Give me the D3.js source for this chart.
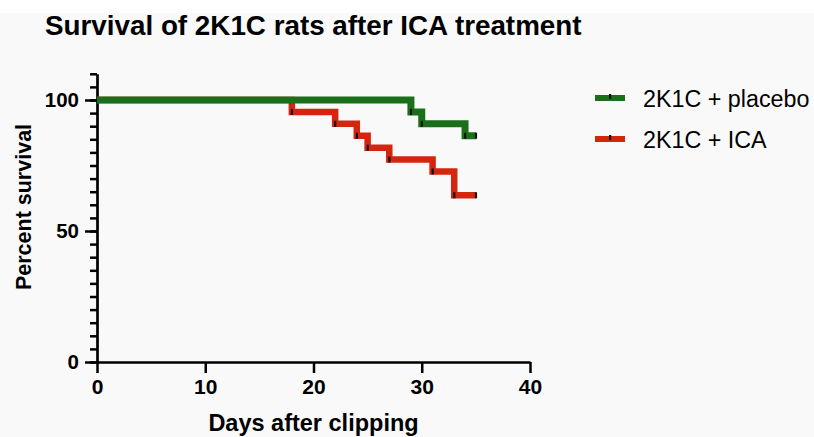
<!DOCTYPE html>
<html><head><meta charset="utf-8">
<script src="https://cdn.jsdelivr.net/npm/d3@7"></script>
<style>
html,body{margin:0;padding:0;background:#f9f9f9;}
text{font-family:"Liberation Sans",Arial,Helvetica,sans-serif;fill:#000;}
</style></head>
<body>
<svg id="chart" width="814" height="437"></svg>
<script>
const title = "Survival of 2K1C rats after ICA treatment";
const xLabel = "Days after clipping";
const yLabel = "Percent survival";
const seriesNames = ["2K1C + placebo", "2K1C + ICA"];
const seriesColors = ["#1b6f1b", "#d4260f"];
const placeboDays = [0, 29, 30, 34, 35];
const placeboSurvival = [100, 95.45, 90.91, 86.36, 86.36];
const icaDays = [0, 18, 22, 24, 25, 27, 31, 33, 35];
const icaSurvival = [100, 95.45, 90.91, 86.36, 81.82, 77.27, 72.73, 63.64, 63.64];
const xTicks = [0, 10, 20, 30, 40];
const yMajorTicks = [0, 50, 100];
const yMinorTicks = d3.range(0, 111, 5);

const svg = d3.select("#chart");
svg.append("rect").attr("x",0).attr("y",0).attr("width",814).attr("height",13).attr("fill","#ffffff");

const x = d3.scaleLinear().domain([0, 40]).range([97, 530]);
const y = d3.scaleLinear().domain([0, 110]).range([362, 73.8]);

// title
svg.append("text").attr("x", 45).attr("y", 35).attr("font-size", 27.8).attr("font-weight", "bold").text(title);

// Y axis minor ticks
const yMinor = svg.append("g").attr("transform", `translate(${x(0)},0)`)
  .call(d3.axisLeft(y).tickValues(yMinorTicks).tickSize(7).tickFormat(""));
yMinor.select(".domain").remove();
yMinor.selectAll(".tick line").attr("stroke", "#000").attr("stroke-width", 2.5);

const yMajor = svg.append("g").attr("transform", `translate(${x(0)},0)`)
  .call(d3.axisLeft(y).tickValues(yMajorTicks).tickSize(12).tickSizeOuter(0).tickPadding(6));
yMajor.select(".domain").attr("stroke", "#000").attr("stroke-width", 2.7);
yMajor.selectAll(".tick line").attr("stroke", "#000").attr("stroke-width", 2.5);
yMajor.selectAll(".tick text").attr("font-size", 20.5).attr("font-weight", "bold")
  .attr("font-family", '"Liberation Sans",Arial,sans-serif').attr("fill", "#000");

// X axis
const xAxis = svg.append("g").attr("transform", `translate(0,${y(0)})`)
  .call(d3.axisBottom(x).tickValues(xTicks).tickSize(11).tickSizeOuter(0).tickPadding(6));
xAxis.select(".domain").attr("stroke", "#000").attr("stroke-width", 2.7);
xAxis.selectAll(".tick line").attr("stroke", "#000").attr("stroke-width", 2.5);
xAxis.selectAll(".tick text").attr("font-size", 21).attr("font-weight", "bold")
  .attr("font-family", '"Liberation Sans",Arial,sans-serif').attr("fill", "#000");

// axis labels
svg.append("text").attr("x", x(20)).attr("y", 431).attr("text-anchor", "middle")
  .attr("font-size", 23.5).attr("font-weight", "bold").text(xLabel);
svg.append("text").attr("transform", "translate(31,207) rotate(-90)").attr("text-anchor", "middle")
  .attr("font-size", 21.5).attr("font-weight", "bold").text(yLabel);

// survival curves
const series = [
  {days: placeboDays, surv: placeboSurvival, color: seriesColors[0], width: 7},
  {days: icaDays, surv: icaSurvival, color: seriesColors[1], width: 6.5}
];
const line = d3.line().x(d => x(d[0])).y(d => y(d[1])).curve(d3.curveStepAfter);
const drawOrder = [1, 0];
drawOrder.forEach(i => {
  const s = series[i];
  const pts = s.days.map((d, k) => [d, s.surv[k]]);
  svg.append("path").attr("d", line(pts)).attr("fill", "none")
    .attr("stroke", s.color).attr("stroke-width", s.width)
    .attr("stroke-linejoin", "miter").attr("stroke-linecap", "butt");
});
drawOrder.forEach(i => {
  const s = series[i];
  const marks = s.days.map((d, k) => [d, s.surv[k]]).slice(1);
  svg.append("g").selectAll("rect").data(marks).join("rect")
    .attr("x", d => x(d[0]) - 1).attr("y", d => y(d[1]) - 3)
    .attr("width", 2.2).attr("height", 6).attr("fill", "#111");
});

// legend
const legY = [98, 139];
seriesNames.forEach((name, i) => {
  svg.append("line").attr("x1", 595).attr("x2", 625).attr("y1", legY[i]).attr("y2", legY[i])
    .attr("stroke", seriesColors[i]).attr("stroke-width", 6);
  svg.append("rect").attr("x", 609).attr("y", legY[i] - 4).attr("width", 2.2).attr("height", 5).attr("fill", "#111");
  svg.append("text").attr("x", 643).attr("y", legY[i] + 8.5).attr("font-size", 23.3).text(name);
});
</script>
</body></html>
